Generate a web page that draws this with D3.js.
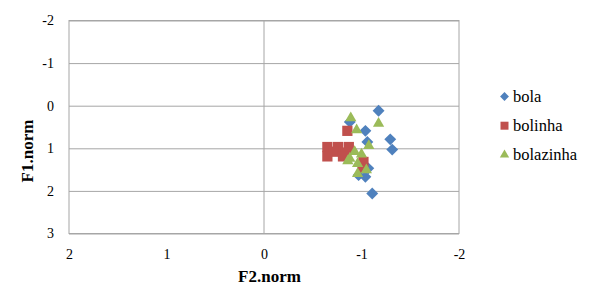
<!DOCTYPE html>
<html>
<head>
<meta charset="utf-8">
<script src="https://cdn.jsdelivr.net/npm/d3@7"></script>
<style>
  body { margin: 0; background: #fff; }
</style>
</head>
<body>
<div id="chart"></div>
<script>
// values (F2.norm, F1.norm)
const seriesNames = ['bola', 'bolinha', 'bolazinha'];
const seriesColors = ['#4f81bd', '#c0504d', '#9bbb59'];

const bola = [
  [-1.175, 0.12], [-1.04, 0.59], [-1.06, 0.85], [-1.295, 0.79], [-1.315, 1.03],
  [-1.11, 2.06], [-0.97, 1.63], [-1.04, 1.67], [-1.07, 1.47], [-0.88, 0.38]
];
const bolinha = [
  [-0.855, 0.59], [-0.65, 0.97], [-0.76, 0.97], [-0.87, 0.97], [-0.84, 1.1],
  [-0.71, 1.08], [-0.65, 1.19], [-0.81, 1.19], [-1.02, 1.32], [-1.01, 1.45]
];
const bolazinha = [
  [-0.89, 0.29], [-1.175, 0.42], [-0.95, 0.57], [-1.075, 0.94], [-0.93, 1.08],
  [-1.0, 1.14], [-0.88, 1.24], [-0.86, 1.3], [-0.96, 1.36], [-1.05, 1.51], [-0.96, 1.6]
];
const xTicks = [2, 1, 0, -1, -2];
const yTicks = [-2, -1, 0, 1, 2, 3];

const width = 600, height = 300;
const plot = { left: 69, right: 459, top: 20.5, bottom: 233.5 };
const serif = 'Liberation Serif';

const svg = d3.select('#chart').append('svg')
  .attr('width', width).attr('height', height);

const xScale = d3.scaleLinear().domain([2, -2]).range([plot.left, plot.right]);
const yScale = d3.scaleLinear().domain([-2, 3]).range([plot.top, plot.bottom]);

// gridlines
svg.append('g')
  .attr('transform', `translate(${plot.left},0)`)
  .call(d3.axisLeft(yScale).tickValues(yTicks).tickFormat('').tickSize(-(plot.right - plot.left)))
  .call(g => g.select('.domain').remove())
  .selectAll('line').attr('stroke', '#a6a6a6');

// plot border
svg.append('rect')
  .attr('x', plot.left).attr('y', plot.top)
  .attr('width', plot.right - plot.left).attr('height', plot.bottom - plot.top)
  .attr('fill', 'none').attr('stroke', '#a6a6a6');

// vertical axis line at x = 0
svg.append('line')
  .attr('x1', xScale(0)).attr('x2', xScale(0))
  .attr('y1', plot.top).attr('y2', plot.bottom)
  .attr('stroke', '#a6a6a6');

// tick labels (plain hyphen minus like the original)
const yAxis = svg.append('g')
  .attr('transform', `translate(${plot.left - 12},0)`)
  .call(d3.axisLeft(yScale).tickValues(yTicks).tickSize(0).tickFormat(d => String(d)));
yAxis.attr('font-family', serif).attr('font-size', 14);
yAxis.select('.domain').remove();
yAxis.selectAll('text').attr('fill', '#000');

const xAxis = svg.append('g')
  .attr('transform', `translate(0,${plot.bottom + 13})`)
  .call(d3.axisBottom(xScale).tickValues(xTicks).tickSize(0).tickFormat(d => String(d)));
xAxis.attr('font-family', serif).attr('font-size', 14);
xAxis.select('.domain').remove();
xAxis.selectAll('text').attr('fill', '#000');

// axis titles
svg.append('text')
  .attr('x', 269.5).attr('y', 281.5)
  .attr('text-anchor', 'middle')
  .attr('font-family', serif)
  .attr('font-size', 17).attr('font-weight', 'bold')
  .text('F2.norm');

svg.append('text')
  .attr('transform', 'translate(33,151) rotate(-90)')
  .attr('text-anchor', 'middle')
  .attr('font-family', serif)
  .attr('font-size', 17).attr('font-weight', 'bold')
  .text('F1.norm');

// markers
const symbols = [
  d3.symbol().type(d3.symbolDiamond2).size(90),
  d3.symbol().type(d3.symbolSquare).size(105),
  d3.symbol().type(d3.symbolTriangle).size(55)
];
const allSeries = [bola, bolinha, bolazinha];

allSeries.forEach((pts, i) => {
  svg.append('g').selectAll('path')
    .data(pts)
    .join('path')
    .attr('d', symbols[i])
    .attr('transform', d => `translate(${xScale(d[0])},${yScale(d[1])})`)
    .attr('fill', seriesColors[i]);
});

// legend
const legend = svg.append('g').attr('transform', 'translate(504.5,96.5)');
const legendSymbols = [
  d3.symbol().type(d3.symbolDiamond2).size(50),
  d3.symbol().type(d3.symbolSquare).size(64),
  d3.symbol().type(d3.symbolTriangle).size(38)
];
seriesNames.forEach((name, i) => {
  const item = legend.append('g').attr('transform', `translate(0,${i * 29.2})`);
  item.append('path').attr('d', legendSymbols[i]).attr('fill', seriesColors[i]);
  item.append('text')
    .attr('x', 8.5).attr('y', 5.2)
    .attr('font-family', serif)
    .attr('font-size', 16.5)
    .text(name);
});
</script>
</body>
</html>
